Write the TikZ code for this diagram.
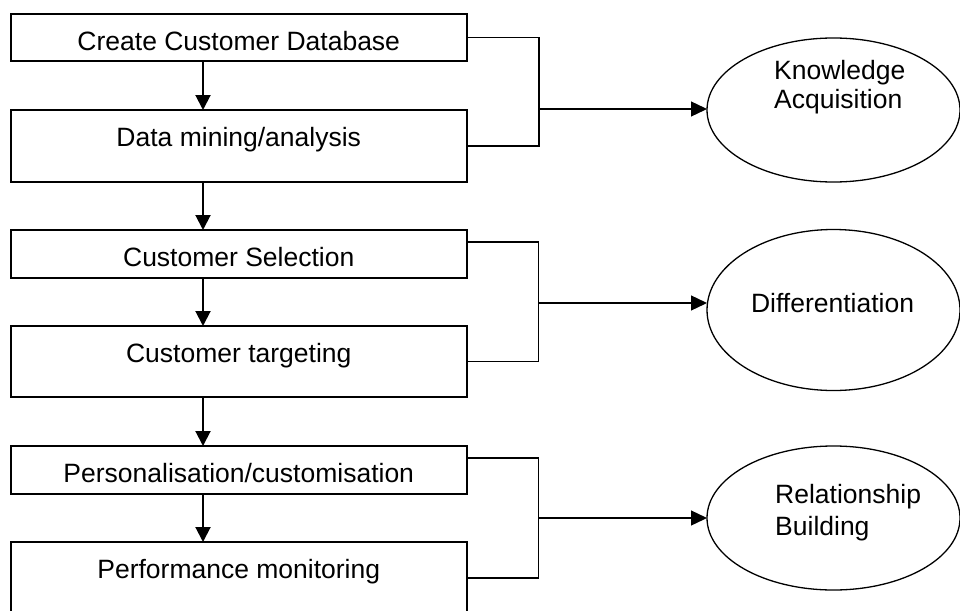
\documentclass[tikz,border=0pt]{standalone}
\usepackage{fontspec}
\setmainfont{Liberation Sans}
\usetikzlibrary{arrows.meta,shapes.geometric,calc}

\tikzset{
  txt/.style={font=\fontsize{26.5}{29}\selectfont, inner sep=0pt},
  stage/.style={draw, line width=2pt, outer sep=0pt, inner sep=0pt,
    minimum width=455.5pt, anchor=north west},
  stagetext/.style={txt, anchor=base, yshift=-36pt},
  goal/.style={draw, ellipse, line width=1.3pt, outer sep=0pt,
    minimum width=253pt, minimum height=144pt},
  flow/.style={line width=2pt, -{Triangle[length=15pt,width=15pt]}},
  link/.style={line width=1.3pt},
  feed/.style={line width=1.3pt, -{Triangle[length=16pt,width=15pt]}},
}

\begin{document}
\begin{tikzpicture}[x=1pt,y=-1pt]
  \useasboundingbox (0,0) rectangle (960,610);
  \clip (0,0) rectangle (960,610);

  % process stages
  \node[stage, minimum height=47pt,
        label={[stagetext]north:Create Customer Database}] (b1) at (11,14.3) {};
  \node[stage, minimum height=72pt,
        label={[stagetext]north:Data mining/analysis}] (b2) at (11,110) {};
  \node[stage, minimum height=48pt,
        label={[stagetext]north:Customer Selection}] (b3) at (11,230) {};
  \node[stage, minimum height=71pt,
        label={[stagetext]north:Customer targeting}] (b4) at (11,326) {};
  \node[stage, minimum height=48pt,
        label={[stagetext]north:Personalisation/customisation}] (b5) at (11,446) {};
  \node[stage, minimum height=84pt,
        label={[stagetext]north:Performance monitoring}] (b6) at (11,542) {};

  % outcomes
  \node[goal] (ka) at (833.5,110) {};
  \node[goal, minimum height=161pt] (df) at (833.5,310) {};
  \node[goal] (rb) at (833.5,518) {};

  \node[txt, anchor=base west] (kat) at ($(ka.center)+(-59.5,-31)$)
    {\begin{tabular}[t]{@{}l@{}}Knowledge\\Acquisition\end{tabular}};
  \node[txt, anchor=base] (dft) at ($(df.center)+(-1,2)$) {Differentiation};
  \node[txt, anchor=base west] (rbt) at ($(rb.center)+(-58.5,-14.7)$)
    {\begin{tabular}[t]{@{}l@{}}Relationship\\[3pt]Building\end{tabular}};

  % flow between stages
  \draw[flow] ($(b1.south west)+(192,0)$) -- ($(b2.north west)+(192,0)$);
  \draw[flow] ($(b2.south west)+(192,0)$) -- ($(b3.north west)+(192,0)$);
  \draw[flow] ($(b3.south west)+(192,0)$) -- ($(b4.north west)+(192,0)$);
  \draw[flow] ($(b4.south west)+(192,0)$) -- ($(b5.north west)+(192,0)$);
  \draw[flow] ($(b5.south west)+(192,0)$) -- ($(b6.north west)+(192,0)$);

  % brackets joining stage pairs to outcomes
  \coordinate (j1) at (539,109);
  \coordinate (j2) at (538.5,303);
  \coordinate (j3) at (538.5,518);

  \draw[link] (b1.east) -| (j1);
  \draw[link] (b2.east) -| (j1);
  \draw[feed] (j1) -- (j1 -| ka.west);

  \draw[link] ($(b3.north east)+(0,12)$) -| (j2);
  \draw[link] (b4.east) -| (j2);
  \draw[feed] (j2) -- (j2 -| df.west);

  \draw[link] ($(b5.north east)+(0,12)$) -| (j3);
  \draw[link] ($(b6.north east)+(0,36)$) -| (j3);
  \draw[feed] (j3) -- (rb.west);
\end{tikzpicture}
\end{document}
